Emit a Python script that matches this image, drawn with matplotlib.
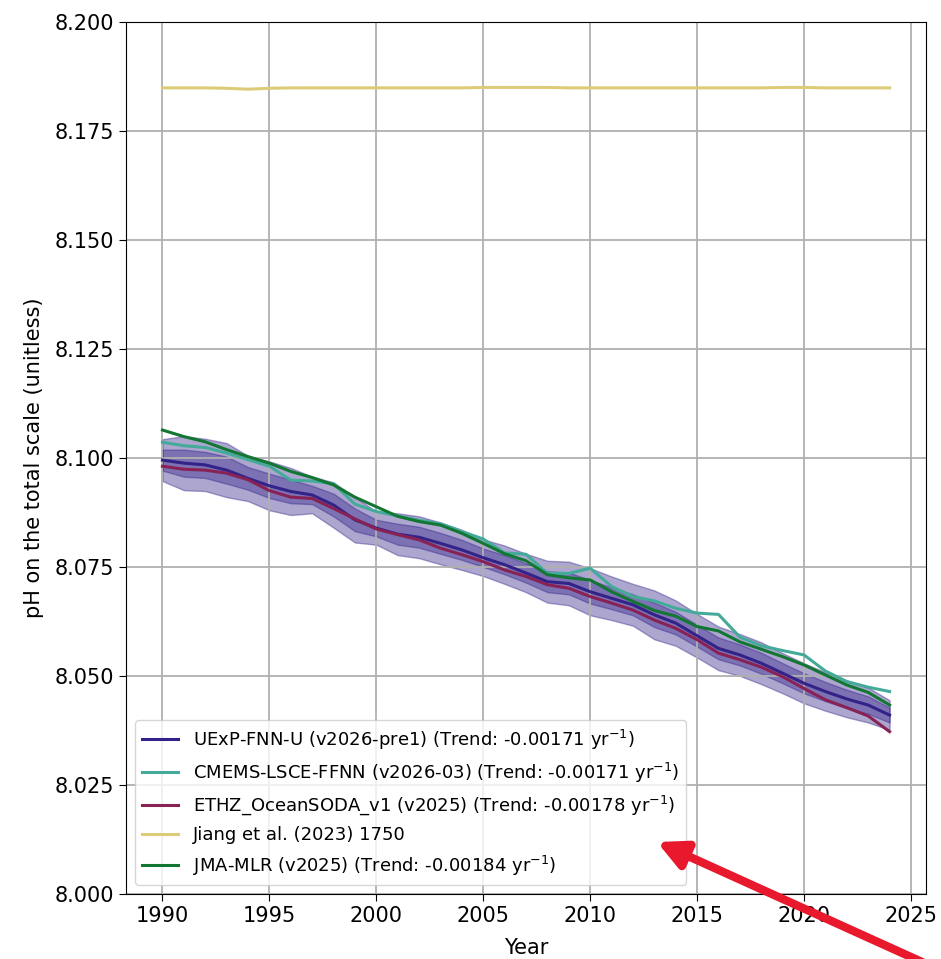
import numpy as np
import matplotlib
matplotlib.use("Agg")
import matplotlib.pyplot as plt

# data
years = list(range(1990, 2025))

uexp = [8.0995, 8.0988, 8.0984, 8.0972, 8.0953, 8.0936, 8.0923, 8.0915, 8.0892, 8.0858,
        8.0839, 8.0825, 8.0818, 8.0804, 8.0789, 8.0771, 8.0755, 8.0736, 8.0716, 8.0712,
        8.0693, 8.0678, 8.0663, 8.0640, 8.0621, 8.0592, 8.0563, 8.0548, 8.0529, 8.0506,
        8.0483, 8.0464, 8.0447, 8.0433, 8.0410]
uexp_sd = [0.0024, 0.0031, 0.0030, 0.0031, 0.0026, 0.0028, 0.0027, 0.0021, 0.0026, 0.0026,
           0.0019, 0.0024, 0.0024, 0.0024, 0.0023, 0.0021, 0.0022, 0.0022, 0.0024, 0.0025,
           0.0027, 0.0025, 0.0024, 0.0028, 0.0026, 0.0025, 0.0025, 0.0024, 0.0024, 0.0023,
           0.0023, 0.0022, 0.0021, 0.0020, 0.0017]

cmems = [8.1036, 8.1028, 8.1024, 8.1011, 8.0996, 8.0981, 8.0949, 8.0947, 8.0941, 8.0894,
         8.0877, 8.0867, 8.0857, 8.0849, 8.0831, 8.0814, 8.0782, 8.0779, 8.0735, 8.0735,
         8.0747, 8.0705, 8.0682, 8.0672, 8.0655, 8.0644, 8.0641, 8.0589, 8.0569, 8.0558,
         8.0548, 8.0511, 8.0487, 8.0474, 8.0464]

ethz = [8.0981, 8.0974, 8.0972, 8.0965, 8.0950, 8.0925, 8.0910, 8.0907, 8.0884, 8.0860,
        8.0837, 8.0824, 8.0812, 8.0793, 8.0778, 8.0762, 8.0743, 8.0728, 8.0709, 8.0701,
        8.0682, 8.0667, 8.0651, 8.0628, 8.0609, 8.0583, 8.0552, 8.0537, 8.0520, 8.0498,
        8.0471, 8.0445, 8.0427, 8.0408, 8.0372]

jiang = [8.1849, 8.1849, 8.1849, 8.1848, 8.1846, 8.1848, 8.1849, 8.1849, 8.1849, 8.1849,
         8.1849, 8.1849, 8.1849, 8.1849, 8.1849, 8.1850, 8.1850, 8.1850, 8.1850, 8.1849,
         8.1849, 8.1849, 8.1849, 8.1849, 8.1849, 8.1849, 8.1849, 8.1849, 8.1849, 8.1850,
         8.1850, 8.1849, 8.1849, 8.1849, 8.1849]

jma = [8.1064, 8.1049, 8.1037, 8.1019, 8.1003, 8.0988, 8.0969, 8.0955, 8.0938, 8.0910,
       8.0888, 8.0866, 8.0854, 8.0846, 8.0827, 8.0804, 8.0780, 8.0764, 8.0732, 8.0725,
       8.0720, 8.0693, 8.0671, 8.0650, 8.0637, 8.0613, 8.0603, 8.0578, 8.0561, 8.0544,
       8.0525, 8.0502, 8.0479, 8.0462, 8.0433]

labels = ['UExP-FNN-U (v2026-pre1) (Trend: -0.00171 yr$^{-1}$)',
          'CMEMS-LSCE-FFNN (v2026-03) (Trend: -0.00171 yr$^{-1}$)',
          'ETHZ_OceanSODA_v1 (v2025) (Trend: -0.00178 yr$^{-1}$)',
          'Jiang et al. (2023) 1750',
          'JMA-MLR (v2025) (Trend: -0.00184 yr$^{-1}$)']
colors = ['#332288', '#44AA99', '#882255', '#DDCC77', '#117733']

x = np.array(years)
m = np.array(uexp)
sd = np.array(uexp_sd)

fig = plt.figure(figsize=(9.41, 9.59), dpi=100)
ax = fig.add_axes([0.134, 0.068, 0.850, 0.909])

ax.fill_between(x, m - 2 * sd, m + 2 * sd, color=colors[0], alpha=0.4)
ax.fill_between(x, m - sd, m + sd, color=colors[0], alpha=0.4)

series = [uexp, cmems, ethz, jiang, jma]
for vals, lab, col in zip(series, labels, colors):
    ax.plot(x, vals, color=col, lw=2.2, label=lab)

ax.set_ylim(8.0, 8.2)
ax.set_yticks(np.arange(8.0, 8.2001, 0.025))
ax.set_yticklabels(['%.3f' % v for v in np.arange(8.0, 8.2001, 0.025)])
ax.set_xticks(range(1990, 2026, 5))
ax.tick_params(labelsize=15, length=5)
ax.grid(True, color='#b0b0b0', lw=1.3)
ax.set_xlabel('Year', fontsize=15, labelpad=9)
ax.set_ylabel('pH on the total scale (unitless)', fontsize=15, labelpad=8)

ax.legend(loc='lower left', fontsize=13, labelspacing=0.5)

# red arrow pointing at the legend
ax.annotate('', xy=(657, 959 - 842), xytext=(922, 959 - 962),
            xycoords='figure pixels', textcoords='figure pixels',
            arrowprops=dict(arrowstyle='-|>', color='#e8192c', lw=6,
                            mutation_scale=42, shrinkA=0, shrinkB=0),
            annotation_clip=False, zorder=10)

fig.savefig('out.png', dpi=100)
